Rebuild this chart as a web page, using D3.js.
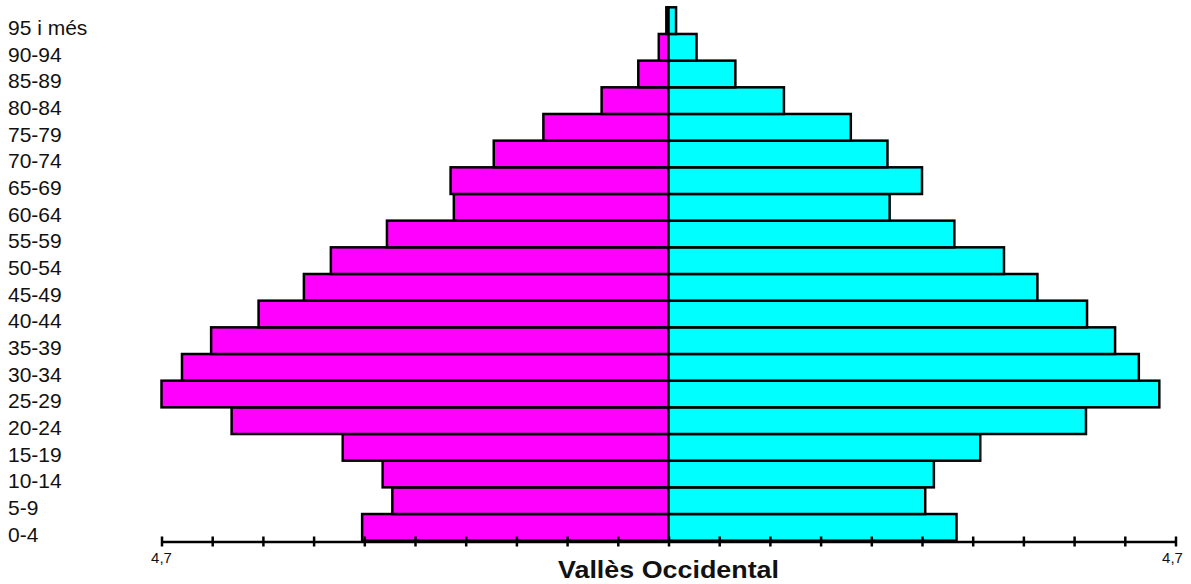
<!DOCTYPE html>
<html lang="ca">
<head>
  <meta charset="UTF-8">
  <title>Piràmide Vallès Occidental</title>
  <script src="https://d3js.org/d3.v7.min.js"></script>
  <style>
    body {
      margin: 0;
      background: #fff;
      font-family: Arial, "Liberation Sans", sans-serif;
    }
  </style>
</head>
<body>
  <div id="chart"></div>

  <script>
    // grups d'edat, de baix a dalt
    const ages = ["0-4", "5-9", "10-14", "15-19", "20-24", "25-29", "30-34", "35-39", "40-44", "45-49",
                  "50-54", "55-59", "60-64", "65-69", "70-74", "75-79", "80-84", "85-89", "90-94", "95 i més"];
    // percentatges (costat esquerre, magenta)
    const leftVals = [2.84, 2.56, 2.65, 3.02, 4.05, 4.70, 4.51, 4.24, 3.80, 3.38,
                      3.13, 2.61, 1.99, 2.02, 1.62, 1.16, 0.62, 0.28, 0.09, 0.02];
    // percentatges (costat dret, cian)
    const rightVals = [2.67, 2.38, 2.46, 2.89, 3.87, 4.55, 4.36, 4.14, 3.88, 3.42,
                       3.11, 2.65, 2.05, 2.35, 2.03, 1.69, 1.07, 0.62, 0.26, 0.07];
    const maxVal = 4.7;
    const tickLabels = ["4,7", "4,7"];
    const title = "Vallès Occidental";

    const W = 1191, H = 584;

    const svg = d3.select("#chart")
                  .append("svg")
                  .attr("width", W)
                  .attr("height", H);

    const x = d3.scaleLinear()
                .domain([-maxVal, maxVal])
                .range([161.5, 1175.5]);

    const y = d3.scaleBand()
                .domain(ages)
                .range([540.7, 7.3])
                .padding(0);

    const data = ages.map((a, i) => ({age: a, left: leftVals[i], right: rightVals[i]}));

    // barres esquerra
    svg.selectAll(".barL")
       .data(data)
       .enter()
       .append("rect")
       .attr("class", "barL")
       .attr("x", d => x(-d.left))
       .attr("y", d => y(d.age))
       .attr("width", d => x(0) - x(-d.left))
       .attr("height", y.bandwidth())
       .attr("fill", "#ff00ff")
       .attr("stroke", "#000")
       .attr("stroke-width", 2.5);

    // barres dreta
    svg.selectAll(".barR")
       .data(data)
       .enter()
       .append("rect")
       .attr("class", "barR")
       .attr("x", x(0))
       .attr("y", d => y(d.age))
       .attr("width", d => x(d.right) - x(0))
       .attr("height", y.bandwidth())
       .attr("fill", "#00ffff")
       .attr("stroke", "#000")
       .attr("stroke-width", 2.5);

    // etiquetes d'edat
    svg.selectAll(".age")
       .data(data)
       .enter()
       .append("text")
       .attr("class", "age")
       .attr("x", 8)
       .attr("y", d => y(d.age) + y.bandwidth() + 1)
       .style("font-size", "21px")
       .style("fill", "#111")
       .text(d => d.age);

    // eix
    const tickVals = d3.range(-10, 11).map(i => i * maxVal / 10);
    const axis = svg.append("g")
       .attr("transform", "translate(0,541.5)")
       .call(d3.axisBottom(x).tickValues(tickVals).tickSize(5).tickSizeOuter(0).tickFormat(""));
    axis.select(".domain").attr("stroke", "#000").attr("stroke-width", 2.5);
    axis.selectAll(".tick line")
        .attr("y1", -5)
        .attr("y2", 5)
        .attr("stroke", "#000")
        .attr("stroke-width", 2.5);

    svg.selectAll(".tlab")
       .data([-maxVal, maxVal])
       .enter()
       .append("text")
       .attr("class", "tlab")
       .attr("x", (d, i) => x(d) + (i ? -3 : 0))
       .attr("y", 563)
       .attr("text-anchor", "middle")
       .style("font-size", "15px")
       .style("fill", "#111")
       .text((d, i) => tickLabels[i]);

    svg.append("text")
       .attr("x", (x(-maxVal) + x(maxVal)) / 2)
       .attr("y", 577.7)
       .attr("text-anchor", "middle")
       .attr("textLength", 221)
       .attr("lengthAdjust", "spacingAndGlyphs")
       .style("font-size", "24px")
       .style("font-weight", "bold")
       .style("fill", "#111")
       .text(title);
  </script>
</body>
</html>
